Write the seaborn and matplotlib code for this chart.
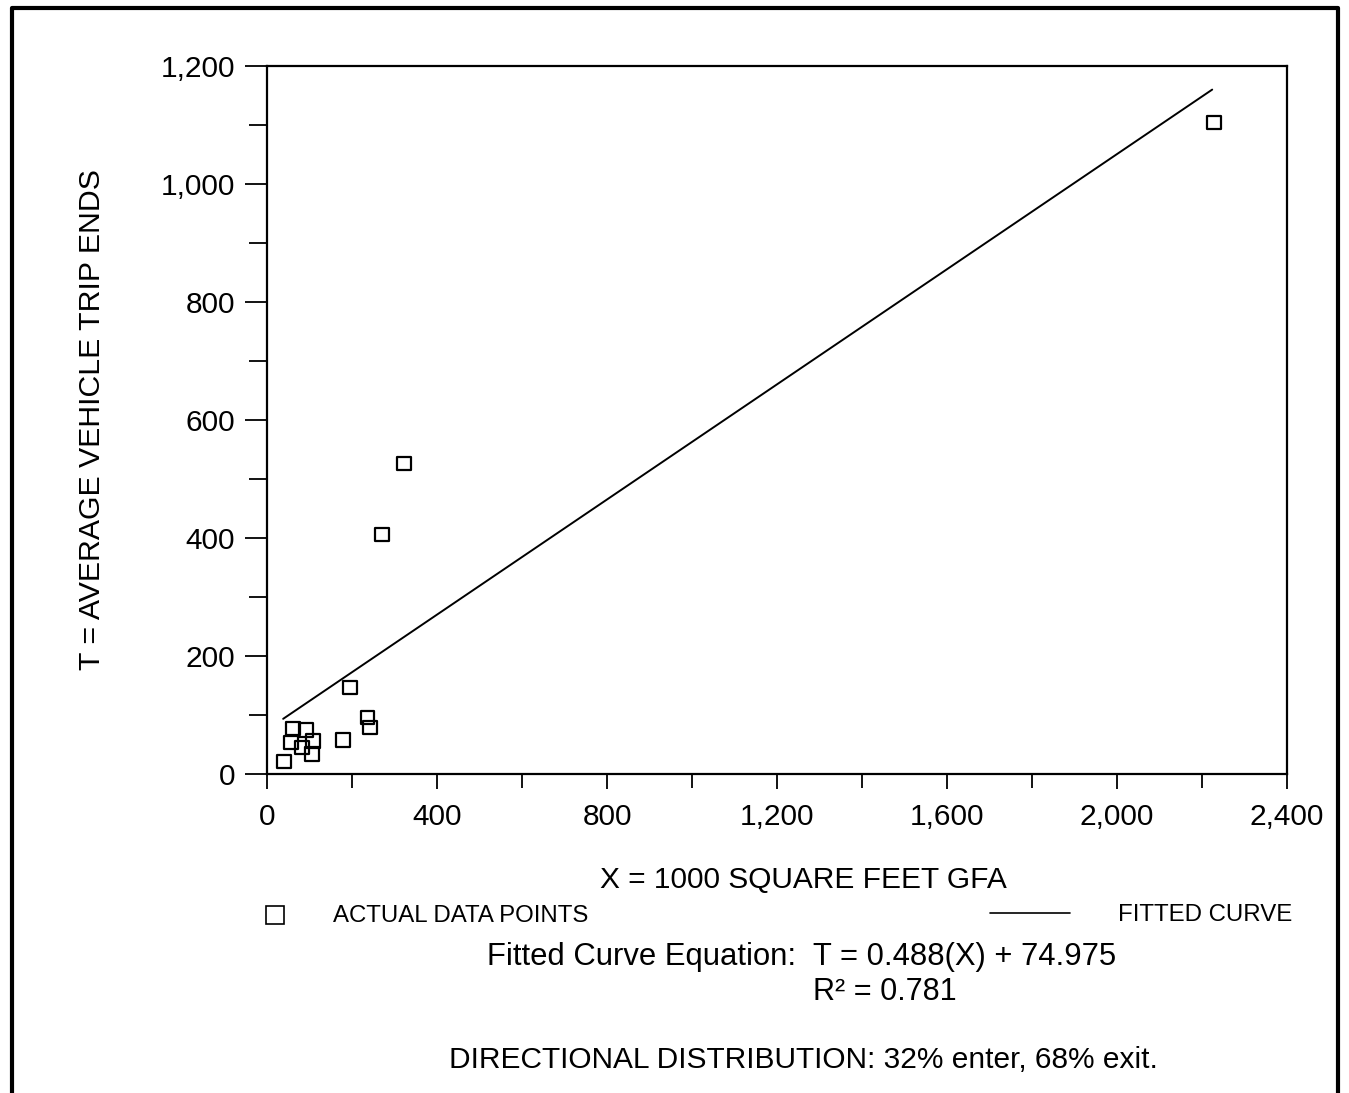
import matplotlib
matplotlib.use("Agg")
import matplotlib.pyplot as plt
import seaborn as sns
import pandas as pd
from matplotlib.lines import Line2D
from matplotlib.ticker import MultipleLocator, FuncFormatter

# Data
area_ksf = [2228, 322, 270, 195, 237, 242, 179, 61, 92, 56, 82, 108, 106, 40]
trip_ends = [1104, 526, 406, 147, 96, 79, 58, 77, 75, 53, 45, 56, 34, 21]
fit_x = [38, 2224]
fit_y = [93.5, 1160]

x_ticks = [0, 400, 800, 1200, 1600, 2000, 2400]
y_ticks = [0, 200, 400, 600, 800, 1000, 1200]

W, H = 1349, 1093
sns.set_theme(style="white")
plt.rcParams['font.family'] = ['Liberation Sans', 'DejaVu Sans']

fig = plt.figure(figsize=(W / 100, H / 100), dpi=100)
ax = fig.add_axes([267 / W, 1 - 774 / H, (1287 - 267) / W, (774 - 66) / H])

df = pd.DataFrame({"x": area_ksf, "y": trip_ends})
sns.scatterplot(data=df, x="x", y="y", marker="s", s=95, facecolor="none",
                edgecolor="black", linewidth=1.6, ax=ax, zorder=3)
fit = pd.DataFrame({"x": fit_x, "y": fit_y})
sns.lineplot(data=fit, x="x", y="y", color="black", linewidth=1.4, ax=ax)

ax.set_xlim(0, 2400)
ax.set_ylim(0, 1200)
ax.set_xticks(x_ticks)
ax.set_yticks(y_ticks)
ax.xaxis.set_minor_locator(MultipleLocator(200))
ax.yaxis.set_minor_locator(MultipleLocator(100))
fmt = FuncFormatter(lambda v, p: f"{int(v):,}")
ax.xaxis.set_major_formatter(fmt)
ax.yaxis.set_major_formatter(fmt)
ax.tick_params(axis="both", which="both", direction="out", width=1.3, colors="black",
               bottom=True, left=True, top=False, right=False)
ax.tick_params(axis="y", which="major", length=16, pad=7, labelsize=21.5)
ax.tick_params(axis="y", which="minor", length=13)
ax.tick_params(axis="x", which="major", length=11, pad=10, labelsize=21.5)
ax.tick_params(axis="x", which="minor", length=10)
for sp in ax.spines.values():
    sp.set_color("black")
    sp.set_linewidth(1.6)
ax.set_xlabel("")
ax.set_ylabel("T = AVERAGE VEHICLE TRIP ENDS", fontsize=21.8, color="black")
ax.yaxis.set_label_coords(-(267 - 92) / (1287 - 267), 0.5)
ax.yaxis.label.set_va("center")

def ft(x, y, s, **kw):
    fig.text(x / W, 1 - y / H, s, color="black", **kw)

ft(803, 880, "X = 1000 SQUARE FEET GFA", fontsize=21.5, ha="center", va="center")
fig.add_artist(Line2D([275 / W], [1 - 915 / H], marker="s", markersize=13,
                      markerfacecolor="none", markeredgecolor="black",
                      markeredgewidth=1.2, linestyle="none"))
ft(333, 916, "ACTUAL DATA POINTS", fontsize=17.3, ha="left", va="center")
fig.add_artist(Line2D([990 / W, 1070 / W], [1 - 913 / H, 1 - 913 / H],
                      color="black", linewidth=1.2))
ft(1292, 915, "FITTED CURVE", fontsize=17.3, ha="right", va="center")
ft(487, 957, "Fitted Curve Equation:  T = 0.488(X) + 74.975", fontsize=22.3,
   ha="left", va="center")
ft(813, 992, "R² = 0.781", fontsize=22, ha="left", va="center")
ft(803, 1060, "DIRECTIONAL DISTRIBUTION: 32% enter, 68% exit.", fontsize=21.5,
   ha="center", va="center")

# page frame
fig.add_artist(Line2D([12 / W, 12 / W, 1338 / W, 1338 / W],
                      [0, 1 - 8 / H, 1 - 8 / H, 0], color="black", linewidth=3))

fig.savefig("out.png", dpi=100, facecolor="white")
